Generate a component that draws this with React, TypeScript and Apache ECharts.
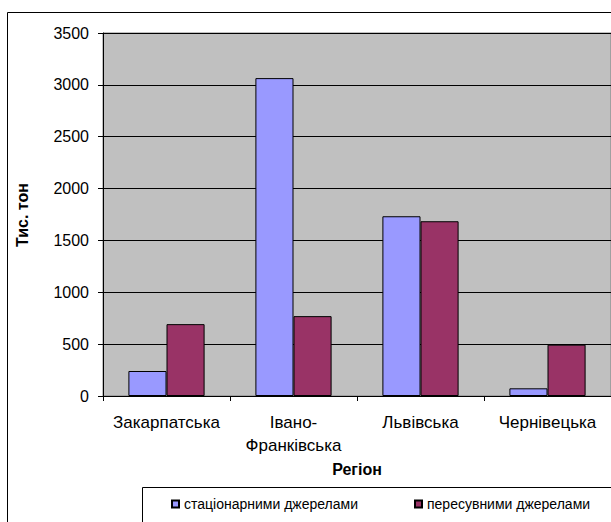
import React, { useEffect, useRef } from "react";
import * as echarts from "echarts";

const categories = ["Закарпатська", "Івано-\nФранківська", "Львівська", "Чернівецька"];
const stationary = [241, 3065, 1733, 74];
const mobile = [693, 770, 1685, 495];
const seriesNames = ["стаціонарними джерелами", "пересувними джерелами"];
const yTicks = { min: 0, max: 3500, interval: 500 };

const FONT = "'Liberation Sans', Arial, sans-serif";

export default function App() {
  const ref = useRef<HTMLDivElement>(null);
  useEffect(() => {
    document.body.style.margin = "0";
    const chart = echarts.init(ref.current!, undefined, { renderer: "svg" });
    chart.setOption({
      animation: false,
      backgroundColor: "#ffffff",
      textStyle: { fontFamily: FONT },
      grid: {
        left: 103,
        right: -3,
        top: 33,
        bottom: 126,
        show: true,
        backgroundColor: "#C0C0C0",
        borderColor: "#808080",
        borderWidth: 1,
      },
      legend: [
        {
          data: [seriesNames[0]],
          left: 171,
          top: 497,
          itemWidth: 7,
          itemHeight: 7,
          itemGap: 6,
          padding: 0,
          icon: "rect",
          textStyle: { fontFamily: FONT, fontSize: 14, color: "#000" },
        },
        {
          data: [seriesNames[1]],
          left: 414,
          top: 497,
          itemWidth: 7,
          itemHeight: 7,
          itemGap: 6,
          padding: 0,
          icon: "rect",
          textStyle: { fontFamily: FONT, fontSize: 14, color: "#000" },
        },
      ],
      xAxis: {
        type: "category",
        data: categories,
        name: "Регіон",
        nameLocation: "middle",
        nameGap: 55,
        nameTextStyle: { fontFamily: FONT, fontSize: 16, fontWeight: "bold", color: "#000" },
        axisLine: { lineStyle: { color: "#000", width: 1 } },
        axisTick: { show: true, length: 5, lineStyle: { color: "#000" } },
        axisLabel: {
          color: "#000",
          fontSize: 17,
          fontFamily: FONT,
          margin: 15,
          lineHeight: 23,
          interval: 0,
        },
        splitLine: { show: false },
      },
      yAxis: {
        type: "value",
        min: yTicks.min,
        max: yTicks.max,
        interval: yTicks.interval,
        axisLine: { show: true, lineStyle: { color: "#000", width: 1 } },
        axisTick: { show: true, length: 5, lineStyle: { color: "#000" } },
        axisLabel: {
          color: "#000",
          fontSize: 16,
          fontFamily: FONT,
          margin: 14,
          formatter: (v: number) => String(v),
        },
        splitLine: { show: true, lineStyle: { color: "#000", width: 1 } },
      },
      series: [
        {
          name: seriesNames[0],
          type: "bar",
          data: stationary,
          barGap: "0%",
          barCategoryGap: "40%",
          itemStyle: { color: "#9999FF", borderColor: "#000", borderWidth: 1 },
        },
        {
          name: seriesNames[1],
          type: "bar",
          data: mobile,
          barGap: "0%",
          barCategoryGap: "40%",
          itemStyle: { color: "#993366", borderColor: "#000", borderWidth: 1 },
        },
      ],
      graphic: [
        {
          type: "rect",
          shape: { x: 7.5, y: 12.5, width: 700, height: 700 },
          style: { fill: "none", stroke: "#000", lineWidth: 1 },
          silent: true,
          z: 100,
        },
        {
          type: "rect",
          shape: { x: 142.5, y: 487.5, width: 600, height: 100 },
          style: { fill: "none", stroke: "#000", lineWidth: 1 },
          silent: true,
          z: 100,
        },
        {
          type: "text",
          x: 22,
          y: 215,
          rotation: Math.PI / 2,
          style: {
            text: "Тис. тон",
            fontFamily: FONT,
            fontSize: 16,
            fontWeight: "bold",
            fill: "#000",
            align: "center",
            verticalAlign: "middle",
          },
        },
      ],
    });
    return () => chart.dispose();
  }, []);
  return (
    <div
      ref={ref}
      style={{ position: "absolute", left: 0, top: 0, width: 611, height: 522 }}
    />
  );
}
